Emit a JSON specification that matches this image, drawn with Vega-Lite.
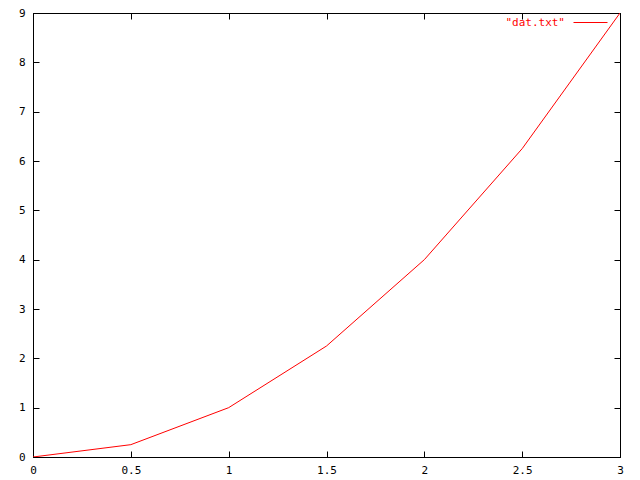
{
  "$schema": "https://vega.github.io/schema/vega-lite/v6.json",
  "width": 587,
  "height": 444,
  "autosize": {"type": "none"},
  "padding": {"left": 33, "top": 13, "right": 20, "bottom": 23},
  "background": "white",
  "config": {
    "view": {"stroke": "black", "strokeWidth": 1},
    "axis": {
      "grid": false,
      "domainColor": "black",
      "tickColor": "black",
      "labelColor": "black",
      "labelFont": "DejaVu Sans Mono",
      "labelFontSize": 11,
      "tickSize": -6,
      "title": null
    },
    "legend": {
      "labelFont": "DejaVu Sans Mono",
      "labelFontSize": 11
    }
  },
  "data": {
    "values": [
      {"x": 0, "y": 0, "series": "\"dat.txt\""},
      {"x": 0.5, "y": 0.25, "series": "\"dat.txt\""},
      {"x": 1, "y": 1, "series": "\"dat.txt\""},
      {"x": 1.5, "y": 2.25, "series": "\"dat.txt\""},
      {"x": 2, "y": 4, "series": "\"dat.txt\""},
      {"x": 2.5, "y": 6.25, "series": "\"dat.txt\""},
      {"x": 3, "y": 9, "series": "\"dat.txt\""}
    ]
  },
  "layer": [
    {
      "mark": {"type": "line", "strokeWidth": 1, "clip": true},
      "encoding": {
        "x": {
          "field": "x", "type": "quantitative",
          "scale": {"domain": [0, 3], "nice": false, "zero": false},
          "axis": {"orient": "bottom", "values": [0, 0.5, 1, 1.5, 2, 2.5, 3], "format": "~g", "labelPadding": 13, "labelFlush": false, "labelOverlap": false}
        },
        "y": {
          "field": "y", "type": "quantitative",
          "scale": {"domain": [0, 9], "nice": false, "zero": false},
          "axis": {"orient": "left", "values": [0, 1, 2, 3, 4, 5, 6, 7, 8, 9], "labelPadding": 14, "labelFlush": false, "labelOverlap": false}
        },
        "color": {
          "field": "series", "type": "nominal",
          "scale": {"range": ["#ff0000"]},
          "legend": {
            "title": null,
            "orient": "none",
            "legendX": 540,
            "legendY": -8,
            "symbolType": "stroke",
            "symbolSize": 1156,
            "symbolStrokeWidth": 1,
            "labelAlign": "right",
            "labelOffset": -43,
            "labelColor": "#ff0000"
          }
        }
      }
    },
    {
      "mark": {"type": "line", "strokeOpacity": 0},
      "encoding": {
        "x": {
          "field": "x", "type": "quantitative",
          "axis": {"orient": "top", "values": [0, 0.5, 1, 1.5, 2, 2.5, 3], "labels": false}
        },
        "y": {
          "field": "y", "type": "quantitative",
          "axis": {"orient": "right", "values": [0, 1, 2, 3, 4, 5, 6, 7, 8, 9], "labels": false}
        }
      }
    }
  ],
  "resolve": {"axis": {"x": "independent", "y": "independent"}}
}
